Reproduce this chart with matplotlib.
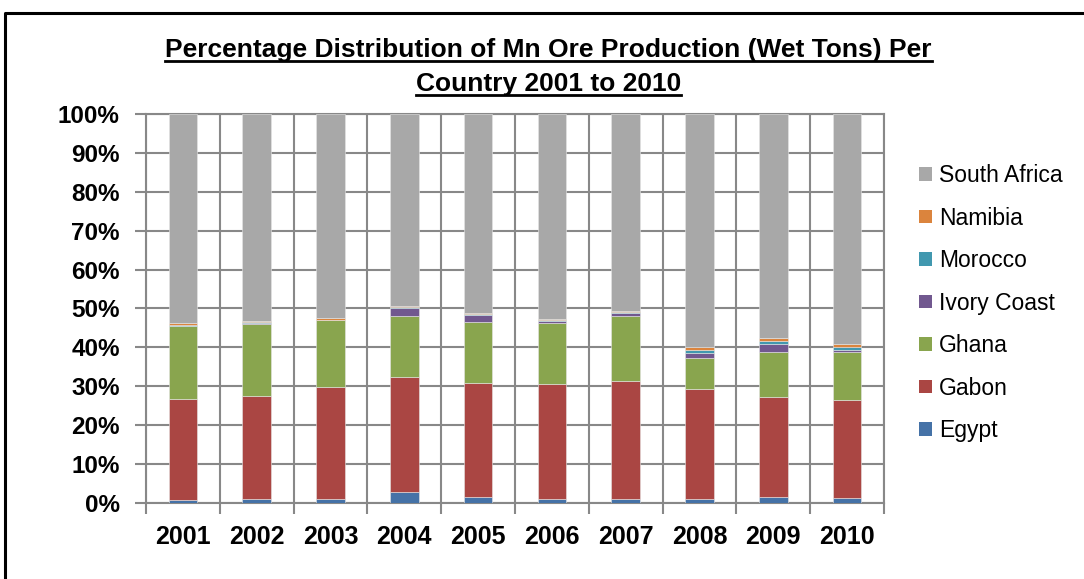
import matplotlib
matplotlib.use("Agg")
import matplotlib.pyplot as plt
from matplotlib.lines import Line2D
from matplotlib.patches import Patch
import numpy as np

plt.rcParams['font.family'] = ['Liberation Sans', 'DejaVu Sans']

# data (percent of total)
years = ['2001', '2002', '2003', '2004', '2005', '2006', '2007', '2008', '2009', '2010']
countries = ['Egypt', 'Gabon', 'Ghana', 'Ivory Coast', 'Morocco', 'Namibia', 'South Africa']
egypt = [0.7, 0.9, 1.0, 2.7, 1.6, 1.1, 0.95, 0.9, 1.5, 1.2]
gabon = [26.1, 26.6, 28.7, 29.8, 29.3, 29.5, 30.45, 28.4, 25.8, 25.4]
ghana = [18.7, 18.6, 17.3, 15.6, 15.6, 15.6, 16.7, 8.0, 11.5, 12.1]
ivory_coast = [0.05, 0.1, 0.05, 2.0, 1.8, 0.7, 0.7, 1.3, 2.1, 0.7]
morocco = [0.3, 0.3, 0.1, 0.25, 0.2, 0.2, 0.2, 0.7, 0.7, 0.7]
namibia = [0.4, 0.4, 0.35, 0.4, 0.4, 0.1, 0.3, 0.7, 0.7, 0.7]
series = [egypt, gabon, ghana, ivory_coast, morocco, namibia]
south_africa = list(100 - np.sum(series, axis=0))
series.append(south_africa)

colors = ['#4572A7', '#AA4643', '#89A54E', '#71588F', '#4198AF', '#DB843D', '#A8A8A8']

fig = plt.figure(figsize=(10.84, 5.79), dpi=100)
ax = fig.add_axes([0.1347, 0.1313, 0.6808, 0.6718])

x = np.arange(len(years))
bottom = np.zeros(len(years))
for vals, c in zip(series, colors):
    ax.bar(x, vals, width=0.39, bottom=bottom, color=c, edgecolor='#e6e6e6',
           linewidth=0.4, zorder=3)
    bottom += np.array(vals)

ax.set_xlim(-0.5, 9.5)
ax.set_ylim(0, 100)
ax.set_xticks(x)
ax.set_xticklabels(years, fontsize=18, fontweight='bold')
ax.set_xticks(np.arange(-0.5, 10, 1), minor=True)
ax.tick_params(axis='x', which='major', length=0, pad=16)
ax.tick_params(axis='x', which='minor', length=8, width=1.5, color='#888888')
ax.set_yticks(np.arange(0, 101, 10))
ax.set_yticklabels(['%d%%' % v for v in range(0, 101, 10)], fontsize=17.5, fontweight='bold')
ax.tick_params(axis='y', length=8, width=1.5, color='#888888', pad=11)
ax.grid(True, axis='y', which='major', color='#888888', linewidth=1.5, zorder=0)
ax.grid(True, axis='x', which='minor', color='#888888', linewidth=1.5, zorder=0)
for s in ax.spines.values():
    s.set_color('#888888')
    s.set_linewidth(1.5)

handles = [Patch(facecolor=c, edgecolor='none') for c in colors]
leg = fig.legend(handles[::-1], countries[::-1], loc='upper left',
                 bbox_to_anchor=(910 / 1084, 1 - 155 / 579), frameon=False,
                 fontsize=16.5, handlelength=0.55, handleheight=0.55,
                 handletextpad=0.3, labelspacing=0.85, borderaxespad=0)

title1 = fig.text(0.506, 1 - 57 / 579, 'Percentage Distribution of Mn Ore Production (Wet Tons) Per',
                  ha='center', va='baseline', fontsize=19, fontweight='bold')
title2 = fig.text(0.506, 1 - 91 / 579, 'Country 2001 to 2010',
                  ha='center', va='baseline', fontsize=19, fontweight='bold')

# underline title lines
fig.canvas.draw()
r = fig.canvas.get_renderer()
for t in (title1, title2):
    bb = t.get_window_extent(r).transformed(fig.transFigure.inverted())
    yline = bb.y0 + 0.002
    fig.add_artist(Line2D([bb.x0, bb.x1], [yline, yline], color='black',
                          linewidth=2, transform=fig.transFigure))

# outer chart border (cut off at right and bottom)
fig.add_artist(Line2D([5 / 1084, 5 / 1084, 1.01], [-0.01, 1 - 13 / 579, 1 - 13 / 579],
                      color='black', linewidth=2.2, transform=fig.transFigure))

fig.savefig('out.png', dpi=100)
